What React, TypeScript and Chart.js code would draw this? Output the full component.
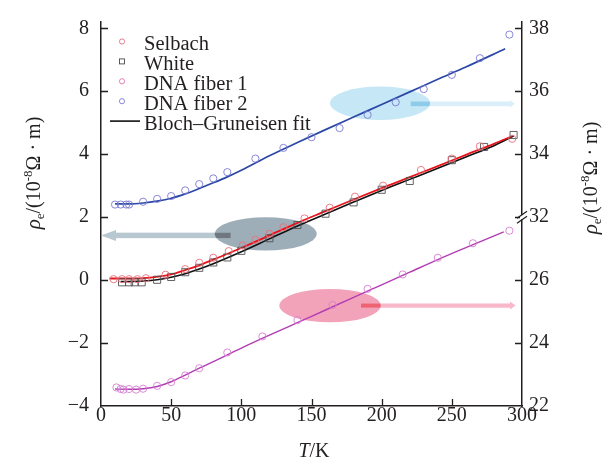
import React, { useEffect, useRef } from "react";
import { Chart, registerables } from "chart.js";

Chart.register(...registerables);

const FONT = '"Liberation Serif", "Times New Roman", serif';
const INK = "#231f20";

// ---- measured data (left axis: Selbach / White) ----
const SELBACH_T = [9, 15, 20, 26, 32, 46, 60, 70, 80, 91, 101, 110, 120, 130, 145, 163, 181, 201, 228, 250, 270, 293];
const SELBACH_RHO = [0.03, 0.03, 0.03, 0.03, 0.06, 0.17, 0.35, 0.55, 0.71, 0.92, 1.1, 1.28, 1.47, 1.68, 1.96, 2.3, 2.65, 3.0, 3.5, 3.86, 4.25, 4.49];

const WHITE_T = [15, 20, 24, 29, 40, 50, 60, 70, 80, 90, 100, 120, 140, 160, 180, 200, 220, 250, 273, 294];
const WHITE_RHO = [-0.07, -0.07, -0.07, -0.07, 0.01, 0.1, 0.25, 0.39, 0.56, 0.72, 0.93, 1.33, 1.75, 2.11, 2.47, 2.87, 3.15, 3.81, 4.23, 4.61];

// ---- DNA fibers (right axis, broken: 22–26 lower part, 32–38 upper part) ----
const FIBER1_T = [11, 14, 16, 20, 25, 30, 40, 50, 60, 70, 90, 115, 140, 165, 190, 215, 240, 265, 291];
const FIBER1_RHO = [22.59, 22.54, 22.52, 22.54, 22.52, 22.55, 22.64, 22.76, 22.97, 23.2, 23.7, 24.21, 24.73, 25.21, 25.72, 26.18, 26.71, 27.17, 27.57];

const FIBER2_T = [10, 14, 18, 20, 30, 40, 50, 60, 70, 80, 90, 110, 130, 150, 170, 190, 210, 230, 250, 270, 291];
const FIBER2_RHO = [32.4, 32.4, 32.4, 32.4, 32.49, 32.58, 32.67, 32.85, 33.05, 33.23, 33.43, 33.86, 34.2, 34.54, 34.83, 35.25, 35.65, 36.07, 36.52, 37.05, 37.8];

// ---- Bloch–Gruneisen fit curves ----
const FIT_SELBACH_T = [6, 20, 35, 50, 60, 70, 80, 100, 120, 140, 160, 180, 200, 220, 240, 260, 280, 293];
const FIT_SELBACH_RHO = [0.05, 0.05, 0.08, 0.18, 0.32, 0.47, 0.65, 1.02, 1.42, 1.82, 2.19, 2.56, 2.92, 3.27, 3.62, 3.98, 4.33, 4.57];

const FIT_WHITE_T = [14, 30, 40, 50, 60, 70, 80, 100, 120, 140, 160, 180, 200, 220, 240, 260, 280, 294];
const FIT_WHITE_RHO = [-0.05, -0.03, 0.01, 0.09, 0.2, 0.35, 0.52, 0.9, 1.31, 1.72, 2.1, 2.48, 2.85, 3.2, 3.55, 3.91, 4.27, 4.58];

const FIT_FIBER1_T = [10, 20, 30, 40, 50, 60, 70, 80, 100, 120, 140, 160, 180, 200, 220, 240, 260, 287];
const FIT_FIBER1_RHO = [22.54, 22.53, 22.55, 22.62, 22.77, 22.98, 23.2, 23.41, 23.84, 24.25, 24.65, 25.05, 25.45, 25.85, 26.25, 26.65, 27.03, 27.53];

const FIT_FIBER2_T = [10, 20, 30, 40, 50, 60, 70, 80, 90, 100, 120, 140, 160, 180, 200, 220, 240, 260, 288];
const FIT_FIBER2_RHO = [32.42, 32.42, 32.45, 32.51, 32.6, 32.74, 32.91, 33.09, 33.28, 33.49, 33.95, 34.37, 34.78, 35.18, 35.58, 35.98, 36.38, 36.77, 37.35];

// ---- axes ----
const X_TICKS = [0, 50, 100, 150, 200, 250, 300];
const LEFT_TICKS = [-4, -2, 0, 2, 4, 6, 8];
const upperToLeft = (r: number) => r - 30;
const lowerToLeft = (r: number) => r - 26;
const rightTickLabel = (v: number) => (v >= 2 ? v + 30 : v + 26);

const LEGEND = [
  { label: "Selbach", kind: "circle", color: "#e46a80" },
  { label: "White", kind: "rect", color: "#4a4a4a" },
  { label: "DNA fiber 1", kind: "circle", color: "#e070b6" },
  { label: "DNA fiber 2", kind: "circle", color: "#7a7ad0" },
  { label: "Bloch\u2013Gruneisen fit", kind: "line", color: "#111111" },
];

// ellipses + arrows (positions in data units)
const MARKS = [
  { cx: 117.4, cy: 1.47, rx: 51, ry: 16.7, fill: "#9eaeb8", v: 1.42, tail: 92.4, tip: 0, headLen: 15, headHalf: 5.5, shaft: 5.5, light: "#b8c8d1", dark: "#6e787e" },
  { cx: 163.2, cy: -0.81, rx: 50.7, ry: 16.7, fill: "#f3a3b9", v: -0.81, tail: 185.3, tip: 295.4, headLen: 5.5, headHalf: 4, shaft: 4.2, light: "#f8b7ca", dark: "#ee6374" },
  { cx: 198.8, cy: 5.62, rx: 50, ry: 16.7, fill: "#c5e7f6", v: 5.6, tail: 220.7, tip: 295, headLen: 5, headHalf: 3.6, shaft: 4.7, light: "#dbeffa", dark: "#8dcbe9" },
];

const pts = (xs: number[], ys: number[], f: (v: number) => number = (v) => v) =>
  xs.map((x, i) => ({ x, y: f(ys[i]) }));

type Part = { t: string; size: number; italic?: boolean; dy?: number };

function rich(ctx: CanvasRenderingContext2D, parts: Part[], cx: number, cy: number, angle: number) {
  ctx.save();
  ctx.translate(cx, cy);
  ctx.rotate(angle);
  ctx.textAlign = "left";
  ctx.textBaseline = "alphabetic";
  ctx.fillStyle = INK;
  const ws = parts.map((p) => {
    ctx.font = `${p.italic ? "italic " : ""}${p.size}px ${FONT}`;
    return ctx.measureText(p.t).width;
  });
  const total = ws.reduce((a, b) => a + b, 0);
  let x = -total / 2;
  parts.forEach((p, i) => {
    ctx.font = `${p.italic ? "italic " : ""}${p.size}px ${FONT}`;
    ctx.fillText(p.t, x, 7 + (p.dy || 0));
    x += ws[i];
  });
  ctx.restore();
}

const rhoTitle: Part[] = [
  { t: "\u03c1", size: 21, italic: true },
  { t: "e", size: 13, dy: 4 },
  { t: "/(10", size: 20 },
  { t: "-8", size: 13, dy: -8 },
  { t: "\u03a9 \u00b7 m)", size: 20 },
];

const marksPlugin = {
  id: "marks",
  beforeDatasetsDraw(chart: any) {
    const ctx = chart.ctx as CanvasRenderingContext2D;
    const xs = chart.scales.x;
    const ys = chart.scales.y;
    MARKS.forEach((m) => {
      const ex = xs.getPixelForValue(m.cx);
      const ey = ys.getPixelForValue(m.cy);
      ctx.save();
      ctx.fillStyle = m.fill;
      ctx.beginPath();
      ctx.ellipse(ex, ey, m.rx, m.ry, 0, 0, Math.PI * 2);
      ctx.fill();
      const ay = ys.getPixelForValue(m.v);
      const tx = xs.getPixelForValue(m.tail);
      const px = xs.getPixelForValue(m.tip);
      const dir = px < tx ? -1 : 1;
      const base = px - dir * m.headLen;
      const x0 = Math.min(tx, base);
      const w = Math.abs(base - tx);
      ctx.fillStyle = m.light;
      ctx.fillRect(x0, ay - m.shaft / 2, w, m.shaft);
      ctx.beginPath();
      ctx.moveTo(px, ay);
      ctx.lineTo(base, ay - m.headHalf);
      ctx.lineTo(base, ay + m.headHalf);
      ctx.closePath();
      ctx.fill();
      // overlap with ellipse is darker
      ctx.beginPath();
      ctx.ellipse(ex, ey, m.rx, m.ry, 0, 0, Math.PI * 2);
      ctx.clip();
      ctx.fillStyle = m.dark;
      ctx.fillRect(x0, ay - m.shaft / 2, w, m.shaft);
      ctx.restore();
    });
  },
  afterDraw(chart: any) {
    const ctx = chart.ctx as CanvasRenderingContext2D;
    const a = chart.chartArea;
    const xs = chart.scales.x;
    const ys = chart.scales.y;
    ctx.save();
    ctx.strokeStyle = INK;
    ctx.lineWidth = 1.3;
    // inward ticks
    LEFT_TICKS.forEach((v) => {
      if (v === LEFT_TICKS[0]) return;
      const y = Math.round(ys.getPixelForValue(v)) + 0.5;
      ctx.beginPath();
      ctx.moveTo(a.left, y);
      ctx.lineTo(a.left + 7, y);
      ctx.moveTo(a.right, y);
      ctx.lineTo(a.right - 7, y);
      ctx.stroke();
    });
    X_TICKS.slice(1, -1).forEach((t) => {
      const x = Math.round(xs.getPixelForValue(t)) + 0.5;
      ctx.beginPath();
      ctx.moveTo(x, a.bottom);
      ctx.lineTo(x, a.bottom - 7);
      ctx.stroke();
    });
    // axis break on the right axis at 32
    const by = ys.getPixelForValue(2);
    const bx = a.right;
    ctx.fillStyle = "#ffffff";
    ctx.fillRect(bx - 2, by - 2, 4, 4);
    ctx.lineWidth = 1.2;
    [-2.5, 2.5].forEach((d) => {
      ctx.beginPath();
      ctx.moveTo(bx - 5, by + d + 3.5);
      ctx.lineTo(bx + 5, by + d - 3.5);
      ctx.stroke();
    });
    ctx.restore();

    // legend
    ctx.save();
    LEGEND.forEach((it, i) => {
      const base = 50 + i * 19.9;
      const my = base - 8.5;
      ctx.strokeStyle = it.color;
      ctx.lineWidth = 0.9;
      if (it.kind === "circle") {
        ctx.beginPath();
        ctx.arc(122, my, 2.6, 0, Math.PI * 2);
        ctx.stroke();
      } else if (it.kind === "rect") {
        ctx.strokeRect(119.5, my - 2.5, 5, 5);
      } else {
        ctx.lineWidth = 1.6;
        ctx.beginPath();
        ctx.moveTo(110, my);
        ctx.lineTo(140, my);
        ctx.stroke();
      }
      ctx.fillStyle = INK;
      ctx.font = `20.5px ${FONT}`;
      ctx.textAlign = "left";
      ctx.textBaseline = "alphabetic";
      ctx.fillText(it.label, 144, base);
    });
    ctx.restore();

    // axis titles
    rich(ctx, rhoTitle, 33, 173, -Math.PI / 2);
    rich(ctx, rhoTitle, 590, 178, -Math.PI / 2);
    rich(
      ctx,
      [
        { t: "T", size: 20, italic: true },
        { t: "/K", size: 20 },
      ],
      314,
      450,
      0
    );
  },
};

export default function App() {
  const ref = useRef<HTMLCanvasElement | null>(null);
  useEffect(() => {
    if (!ref.current) return;
    const tickFont = { family: FONT, size: 20, lineHeight: 1 };
    const chart = new Chart(ref.current, {
      type: "line",
      data: {
        datasets: [
          { label: "Selbach", data: pts(SELBACH_T, SELBACH_RHO), showLine: false, pointStyle: "circle", pointRadius: 3.6, borderColor: "#e8707c", pointBorderColor: "#e8707c", pointBackgroundColor: "rgba(0,0,0,0)", pointBorderWidth: 0.9 },
          { label: "White", data: pts(WHITE_T, WHITE_RHO), showLine: false, pointStyle: "rect", pointRadius: 5, borderColor: "#505050", pointBorderColor: "#505050", pointBackgroundColor: "rgba(0,0,0,0)", pointBorderWidth: 0.9 },
          { label: "DNA fiber 1", data: pts(FIBER1_T, FIBER1_RHO, lowerToLeft), showLine: false, pointStyle: "circle", pointRadius: 3.6, borderColor: "#d57fd0", pointBorderColor: "#d57fd0", pointBackgroundColor: "rgba(0,0,0,0)", pointBorderWidth: 0.9 },
          { label: "DNA fiber 2", data: pts(FIBER2_T, FIBER2_RHO, upperToLeft), showLine: false, pointStyle: "circle", pointRadius: 3.6, borderColor: "#7b7bd0", pointBorderColor: "#7b7bd0", pointBackgroundColor: "rgba(0,0,0,0)", pointBorderWidth: 0.9 },
          { label: "fit Selbach", data: pts(FIT_SELBACH_T, FIT_SELBACH_RHO), borderColor: "#e8131b", borderWidth: 1.8, pointRadius: 0, cubicInterpolationMode: "monotone" },
          { label: "Bloch\u2013Gruneisen fit", data: pts(FIT_WHITE_T, FIT_WHITE_RHO), borderColor: "#111111", borderWidth: 1.6, pointRadius: 0, cubicInterpolationMode: "monotone" },
          { label: "fit fiber 1", data: pts(FIT_FIBER1_T, FIT_FIBER1_RHO, lowerToLeft), borderColor: "#b23db4", borderWidth: 1.4, pointRadius: 0, cubicInterpolationMode: "monotone" },
          { label: "fit fiber 2", data: pts(FIT_FIBER2_T, FIT_FIBER2_RHO, upperToLeft), borderColor: "#2b48a6", borderWidth: 1.7, pointRadius: 0, cubicInterpolationMode: "monotone" },
        ],
      },
      options: {
        responsive: false,
        animation: false,
        events: [],
        layout: { padding: { top: 17, left: 0, right: 0, bottom: 0 } },
        plugins: { legend: { display: false }, tooltip: { enabled: false } },
        scales: {
          x: {
            type: "linear",
            min: 0,
            max: 300,
            afterBuildTicks: (s: any) => { s.ticks = X_TICKS.map((v) => ({ value: v })); },
            afterFit: (s: any) => { s.height = 53; },
            ticks: { font: tickFont, color: INK, padding: 0, maxRotation: 0 },
            grid: { display: false, drawTicks: false },
            border: { display: true, color: INK, width: 1.5 },
          },
          y: {
            type: "linear",
            position: "left",
            min: -4,
            max: 8.2,
            afterBuildTicks: (s: any) => { s.ticks = LEFT_TICKS.map((v) => ({ value: v })); },
            afterFit: (s: any) => { s.width = 101; },
            ticks: { font: tickFont, color: INK, padding: 12, callback: (v: any) => (v < 0 ? "\u2212" + Math.abs(v) : String(v)) },
            grid: { display: false, drawTicks: false },
            border: { display: true, color: INK, width: 1.5 },
          },
          y2: {
            type: "linear",
            position: "right",
            min: -4,
            max: 8.2,
            afterBuildTicks: (s: any) => { s.ticks = LEFT_TICKS.map((v) => ({ value: v })); },
            afterFit: (s: any) => { s.width = 92; },
            ticks: { font: tickFont, color: INK, padding: 7, callback: (v: any) => String(rightTickLabel(v)) },
            grid: { display: false, drawTicks: false },
            border: { display: true, color: INK, width: 1.5 },
          },
        },
      } as any,
      plugins: [marksPlugin],
    });
    return () => chart.destroy();
  }, []);
  return (
    <div style={{ position: "fixed", left: 0, top: 0, width: 614, height: 459, background: "#fff" }}>
      <canvas ref={ref} width={614} height={459} style={{ display: "block" }} />
    </div>
  );
}
